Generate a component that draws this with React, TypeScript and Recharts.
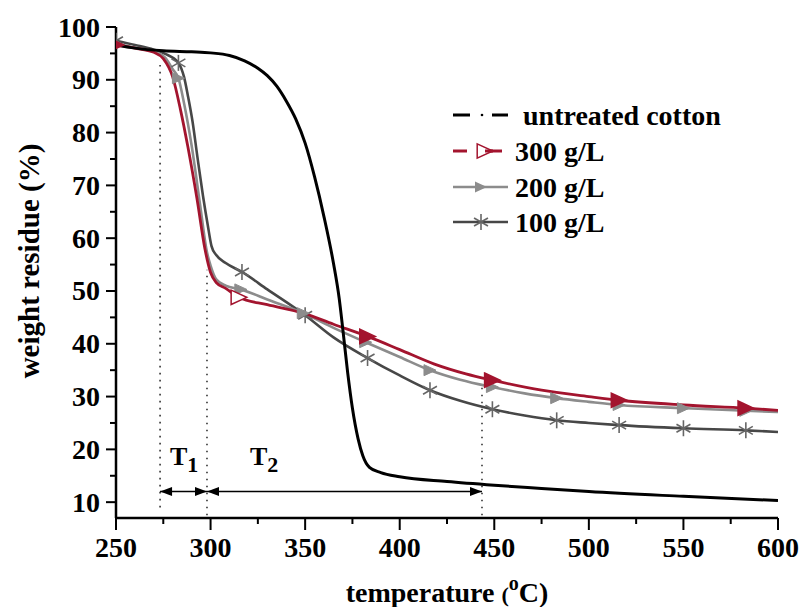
import React from 'react';
import { ComposedChart, Line, Scatter, XAxis, YAxis, ReferenceLine, ReferenceDot, Label } from 'recharts';

const FONT = "'Liberation Serif', 'Times New Roman', serif";

// axis ticks (major every 50 / 10, minor between)
const xTicks = [250, 275, 300, 325, 350, 375, 400, 425, 450, 475, 500, 525, 550, 575, 600];
const yTicks = [10, 15, 20, 25, 30, 35, 40, 45, 50, 55, 60, 65, 70, 75, 80, 85, 90, 95, 100];

const seriesNames = ['untreated cotton', '300 g/L', '200 g/L', '100 g/L'];

// [temperature, weight residue]
const untreated = [
  [250, 96.6], [260, 96.0], [275, 95.5], [290, 95.3], [300, 95.1], [310, 94.6], [318, 93.6],
  [325, 92.2], [330, 90.8], [335, 88.8], [340, 86.0], [345, 82.6], [350, 78.0], [355, 71.6],
  [360, 64.0], [365, 55.2], [368, 48.6], [370, 42.5], [372.5, 34.5], [375, 27.8], [378, 22.0],
  [380.5, 18.8], [384, 16.6], [390, 15.6], [400, 14.8], [425, 13.9], [450, 13.2], [475, 12.6],
  [500, 12.0], [550, 11.1], [600, 10.3],
];
const g300 = [
  [250, 96.6], [260, 96.0], [270, 95.2], [275, 94.0], [280, 90.5], [284, 84.5], [288, 77.3],
  [292.8, 67.5], [297, 58], [300, 53.5], [303, 51.6], [308, 50.5], [315, 48.8], [330, 47.4],
  [349, 45.8], [365, 43.7], [383, 41.4], [400, 38.9], [418, 36.2], [435, 34.3], [449, 33.1],
  [475, 31.2], [500, 30.0], [516, 29.3], [550, 28.4], [583, 27.8], [600, 27.4],
];
const g200 = [
  [250, 96.8], [260, 96.1], [270, 95.3], [276, 94.2], [280, 92], [283, 90.3], [286, 85.5],
  [290, 77.5], [294.4, 66.5], [298, 57.5], [300, 54.8], [303, 52.2], [308, 51.0], [316, 50.3],
  [330, 48.4], [349, 45.8], [365, 43.0], [382, 40.3], [400, 37.5], [416, 35.0], [432, 33.2],
  [449, 31.8], [466, 30.6], [483, 29.7], [500, 29.0], [516, 28.4], [550, 27.8], [583, 27.3], [600, 27.1],
];
const g100 = [
  [250, 97.4], [260, 96.6], [270, 95.7], [276, 94.9], [283, 93.2], [286, 90.5], [288, 87],
  [290.5, 82], [293, 75.5], [296, 68], [298.5, 62.5], [300.5, 58.5], [303, 56.8], [308, 55.3],
  [316.6, 53.6], [330, 50.3], [350, 45.4], [365, 41.2], [383, 37.3], [400, 34.0], [416, 31.2],
  [432, 29.2], [449, 27.6], [466, 26.4], [483, 25.5], [500, 25.0], [516, 24.6], [550, 24.0],
  [583, 23.6], [600, 23.3],
];

// symbol positions along the curves
const marks300Open = [[315, 48.8]];
const marks300 = [[250, 96.6], [383, 41.4], [449, 33.1], [516, 29.3], [583, 27.8]];
const marks200 = [[250, 96.8], [283, 90.3], [316, 50.3], [349, 45.8], [382, 40.3], [416, 35.0], [449, 31.8], [483, 29.7], [516, 28.4], [550, 27.8], [583, 27.3]];
const marks100 = [[250, 97.4], [283, 93.2], [316.6, 53.6], [350, 45.4], [383, 37.3], [416, 31.2], [449, 27.6], [483, 25.5], [516, 24.6], [550, 24.0], [583, 23.6]];

// T1 / T2 annotation
const t1Start = 273.3;
const t1End = 298.1;
const t2End = 443.5;
const arrowY = 12;

const pts = (arr: number[][]) => arr.map(([t, w]) => ({ t, w }));

const RED = '#a3142e';
const GRAY = '#8c8c8c';
const DARK = '#474747';

const XTick = (props: any) => {
  const { x, y, payload } = props;
  const major = payload.value % 50 === 0;
  return (
    <g>
      <line x1={x} x2={x} y1={y} y2={y + (major ? 12 : 6)} stroke="#000" strokeWidth={2} />
      {major && (
        <text x={x} y={y + 39} textAnchor="middle" fontFamily={FONT} fontWeight="bold" fontSize={28} fill="#000">
          {payload.value}
        </text>
      )}
    </g>
  );
};

const YTick = (props: any) => {
  const { x, y, payload } = props;
  const major = payload.value % 10 === 0;
  return (
    <g>
      <line x1={x - (major ? 10 : 6)} x2={x} y1={y} y2={y} stroke="#000" strokeWidth={2} />
      {major && (
        <text x={x - 16} y={y + 9.5} textAnchor="end" fontFamily={FONT} fontWeight="bold" fontSize={28} fill="#000">
          {payload.value}
        </text>
      )}
    </g>
  );
};

const triRight = (cx: number, cy: number, s: number) =>
  `${cx - s * 0.6},${cy - s * 0.55} ${cx + s * 0.6},${cy} ${cx - s * 0.6},${cy + s * 0.55}`;

const RedTri = (p: any) => <polygon points={triRight(p.cx, p.cy, 13)} fill={RED} stroke={RED} strokeWidth={1.5} />;
const RedTriOpen = (p: any) => <polygon points={triRight(p.cx, p.cy, 13)} fill="#fff" stroke={RED} strokeWidth={1.5} />;
const GrayTri = (p: any) => <polygon points={triRight(p.cx, p.cy, 10)} fill={GRAY} stroke={GRAY} strokeWidth={1} />;
const Star = (p: any) => {
  const { cx, cy } = p;
  const r = 8;
  return (
    <g stroke="#666" strokeWidth={1.6}>
      <line x1={cx} y1={cy - r} x2={cx} y2={cy + r} />
      <line x1={cx - r * 0.87} y1={cy - r * 0.5} x2={cx + r * 0.87} y2={cy + r * 0.5} />
      <line x1={cx - r * 0.87} y1={cy + r * 0.5} x2={cx + r * 0.87} y2={cy - r * 0.5} />
    </g>
  );
};

const Head = (dir: number) => (p: any) => {
  const { cx, cy } = p;
  return <polygon points={`${cx},${cy} ${cx - dir * 12},${cy - 4.5} ${cx - dir * 12},${cy + 4.5}`} fill="#000" />;
};

const TLabel = (sub: string) => (p: any) => (
  <text x={p.cx} y={p.cy} fontFamily={FONT} fontWeight="bold" fontSize={26} fill="#000">
    T<tspan fontSize={22} dy={7}>{sub}</tspan>
  </text>
);

const LegendBox = () => {
  const rows = [115, 151, 187, 222];
  const x0 = 453;
  return (
    <svg width={803} height={607} style={{ position: 'absolute', left: 0, top: 0, pointerEvents: 'none' }}>
      <g>
        <line x1={x0} x2={x0 + 17} y1={rows[0]} y2={rows[0]} stroke="#000" strokeWidth={3} />
        <circle cx={x0 + 29} cy={rows[0]} r={1.3} fill="#000" />
        <line x1={x0 + 39} x2={x0 + 55} y1={rows[0]} y2={rows[0]} stroke="#000" strokeWidth={3} />
      </g>
      <g>
        <line x1={x0} x2={x0 + 14} y1={rows[1]} y2={rows[1]} stroke={RED} strokeWidth={3} />
        <line x1={x0 + 26} x2={x0 + 49} y1={rows[1]} y2={rows[1]} stroke={RED} strokeWidth={3} />
        <polygon points={triRight(x0 + 32, rows[1], 13)} fill="#fff" stroke={RED} strokeWidth={1.5} />
        <line x1={x0 + 32} x2={x0 + 40} y1={rows[1]} y2={rows[1]} stroke={RED} strokeWidth={3} />
      </g>
      <g>
        <line x1={x0} x2={x0 + 55} y1={rows[2]} y2={rows[2]} stroke={GRAY} strokeWidth={2.5} />
        <polygon points={triRight(x0 + 28, rows[2], 10)} fill={GRAY} />
      </g>
      <g>
        <line x1={x0} x2={x0 + 55} y1={rows[3]} y2={rows[3]} stroke={DARK} strokeWidth={2.5} />
        <Star cx={x0 + 28} cy={rows[3]} />
      </g>
      {seriesNames.map((n, i) => (
        <text key={n} x={i === 0 ? 523 : 515} y={rows[i] + 10} fontFamily={FONT} fontWeight="bold" fontSize={28} fill="#000">
          {n}
        </text>
      ))}
    </svg>
  );
};

export default function App() {
  return (
    <div style={{ position: 'absolute', left: 0, top: 0, width: 803, height: 607, background: '#fff' }}>
      <ComposedChart width={803} height={607} margin={{ top: 27, right: 25, bottom: 0, left: 0 }}>
        <XAxis
          type="number"
          dataKey="t"
          domain={[250, 600]}
          ticks={xTicks}
          interval={0}
          allowDataOverflow
          height={89}
          tickSize={0}
          tickMargin={0}
          tickLine={false}
          axisLine={{ stroke: '#000', strokeWidth: 2.5 }}
          tick={<XTick />}
        >
          <Label
            content={(p: any) => {
              const vb = p.viewBox;
              return (
                <text x={vb.x + vb.width / 2} y={602} textAnchor="middle" fontFamily={FONT} fontWeight="bold" fontSize={28} fill="#000">
                  temperature <tspan fontSize={22}>(</tspan>
                  <tspan fontSize={20} dy={-12}>o</tspan>
                  <tspan dy={12}>C)</tspan>
                </text>
              );
            }}
          />
        </XAxis>
        <YAxis
          type="number"
          dataKey="w"
          domain={[7, 100]}
          ticks={yTicks}
          interval={0}
          allowDataOverflow
          width={116}
          tickSize={0}
          tickMargin={0}
          tickLine={false}
          axisLine={{ stroke: '#000', strokeWidth: 2.5 }}
          tick={<YTick />}
        >
          <Label
            content={() => (
              <text
                x={29}
                y={261}
                transform="rotate(-90 29 261)"
                textAnchor="middle"
                dy={10}
                fontFamily={FONT}
                fontWeight="bold"
                fontSize={29}
                fill="#000"
              >
                weight residue (%)
              </text>
            )}
          />
        </YAxis>

        <ReferenceLine segment={[{ x: t1Start, y: 9 }, { x: t1Start, y: 92.8 }]} stroke="#333" strokeWidth={1.6} strokeDasharray="1.6 5.4" />
        <ReferenceLine segment={[{ x: t1End, y: 7.5 }, { x: t1End, y: 54 }]} stroke="#333" strokeWidth={1.6} strokeDasharray="1.6 5.4" />
        <ReferenceLine segment={[{ x: t2End, y: 7.5 }, { x: t2End, y: 32.5 }]} stroke="#333" strokeWidth={1.6} strokeDasharray="1.6 5.4" />
        <ReferenceLine segment={[{ x: t1Start, y: arrowY }, { x: t2End, y: arrowY }]} stroke="#000" strokeWidth={1.5} />
        <ReferenceDot x={t1Start} y={arrowY} r={0} shape={Head(-1)} />
        <ReferenceDot x={t1End} y={arrowY} r={0} shape={Head(1)} />
        <ReferenceDot x={t1End} y={arrowY} r={0} shape={Head(-1)} />
        <ReferenceDot x={t2End} y={arrowY} r={0} shape={Head(1)} />
        <ReferenceDot x={278.5} y={17} r={0} shape={TLabel('1')} />
        <ReferenceDot x={320.8} y={17} r={0} shape={TLabel('2')} />

        <Line data={pts(g100)} dataKey="w" type="monotone" stroke={DARK} strokeWidth={2.6} dot={false} isAnimationActive={false} />
        <Line data={pts(g200)} dataKey="w" type="monotone" stroke={GRAY} strokeWidth={2.6} dot={false} isAnimationActive={false} />
        <Line data={pts(g300)} dataKey="w" type="monotone" stroke={RED} strokeWidth={2.8} dot={false} isAnimationActive={false} />
        <Line data={pts(untreated)} dataKey="w" type="monotone" stroke="#000" strokeWidth={3} dot={false} isAnimationActive={false} />

        <Scatter data={pts(marks100)} shape={Star} isAnimationActive={false} />
        <Scatter data={pts(marks200)} shape={GrayTri} isAnimationActive={false} />
        <Scatter data={pts(marks300)} shape={RedTri} isAnimationActive={false} />
        <Scatter data={pts(marks300Open)} shape={RedTriOpen} isAnimationActive={false} />
      </ComposedChart>
      <LegendBox />
    </div>
  );
}
